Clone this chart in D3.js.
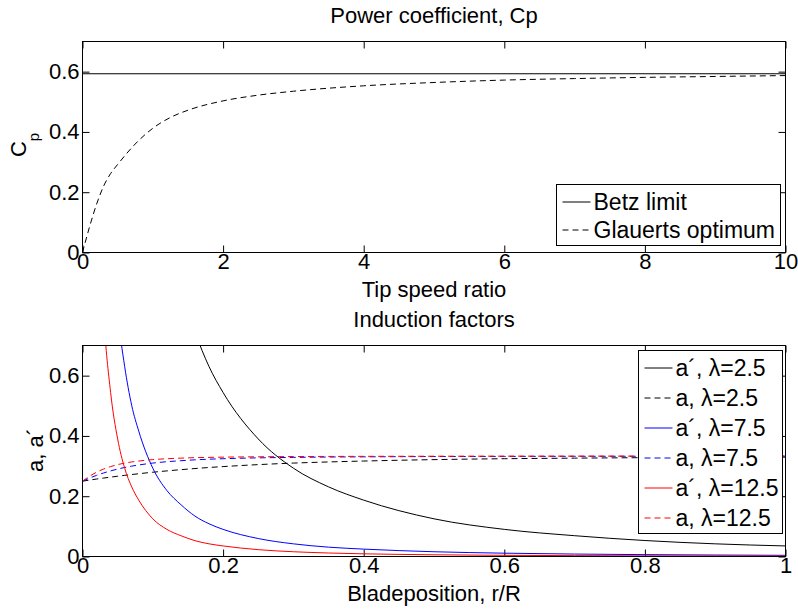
<!DOCTYPE html>
<html>
<head>
<meta charset="utf-8">
<script src="https://cdn.jsdelivr.net/npm/d3@7"></script>
<style>
    body { margin: 0; background: #fff; }
    svg text { font-family: "Liberation Sans", Arial, Helvetica, sans-serif; }
</style>
</head>
<body>
<div id="chart-area"></div>
<script>
// ---- top panel: power coefficient vs tip speed ratio
const tsrBetz = [0, 10];
const cpBetz = [0.593, 0.593];

const tsrGlauert = [0, 0.1, 0.2, 0.3, 0.4, 0.5, 0.75, 1, 1.25, 1.5, 2, 2.5, 3, 4, 5, 6, 7, 8, 9, 10];
const cpGlauert = [0, 0.085, 0.16, 0.22, 0.262, 0.292, 0.36, 0.412, 0.448, 0.472, 0.503, 0.522, 0.535, 0.553, 0.564, 0.572, 0.577, 0.581, 0.584, 0.587];

const topXTicks = [0, 2, 4, 6, 8, 10];
const topXLabels = ["0", "2", "4", "6", "8", "10"];
const topYTicks = [0, 0.2, 0.4, 0.6];
const topYLabels = ["0", "0.2", "0.4", "0.6"];

// ---- bottom panel: induction factors vs blade position
const bladePos = [0, 0.01, 0.02, 0.03, 0.04, 0.05, 0.06, 0.07, 0.08, 0.1, 0.12, 0.14, 0.16, 0.18, 0.2, 0.25, 0.3, 0.35, 0.4, 0.5, 0.6, 0.7, 0.8, 0.9, 1.0];

const aPrime25 = [null, 17, 8.3, 5.4, 3.95, 3.08, 2.5, 2.09, 1.79, 1.36, 1.088, 0.89, 0.745, 0.63, 0.544, 0.39, 0.293, 0.231, 0.187, 0.125, 0.09, 0.069, 0.053, 0.042, 0.035];
const a25 = [0.25, 0.2535, 0.257, 0.2602, 0.2633, 0.2663, 0.2692, 0.272, 0.2746, 0.2796, 0.284, 0.2881, 0.2918, 0.2953, 0.2983, 0.3048, 0.3099, 0.3137, 0.3167, 0.3214, 0.3244, 0.3263, 0.3279, 0.3288, 0.3296];
const aPrime75 = [null, 5.4, 2.505, 1.556, 1.088, 0.809, 0.63, 0.501, 0.416, 0.293, 0.219, 0.172, 0.134, 0.1085, 0.09, 0.0596, 0.042, 0.031, 0.0245, 0.0158, 0.011, 0.0081, 0.0062, 0.0049, 0.0039];
const a75 = [0.25, 0.2601, 0.2692, 0.2771, 0.284, 0.2901, 0.2953, 0.2998, 0.3036, 0.3099, 0.3145, 0.3178, 0.3207, 0.3228, 0.3244, 0.3272, 0.3288, 0.33, 0.3306, 0.3316, 0.3321, 0.3324, 0.3326, 0.3328, 0.3329];
const aPrime125 = [null, 3.08, 1.36, 0.809, 0.544, 0.39, 0.293, 0.231, 0.187, 0.125, 0.09, 0.069, 0.0525, 0.042, 0.035, 0.0227, 0.0158, 0.0116, 0.0089, 0.0057, 0.0039, 0.0029, 0.0022, 0.0018, 0.0014];
const a125 = [0.25, 0.2663, 0.2796, 0.2901, 0.2983, 0.3048, 0.3099, 0.3137, 0.3167, 0.3214, 0.3244, 0.3263, 0.3279, 0.3288, 0.3296, 0.3308, 0.3316, 0.332, 0.3323, 0.3327, 0.3329, 0.333, 0.3331, 0.3331, 0.3332];

const botXTicks = [0, 0.2, 0.4, 0.6, 0.8, 1];
const botXLabels = ["0", "0.2", "0.4", "0.6", "0.8", "1"];
const botYTicks = [0, 0.2, 0.4, 0.6];
const botYLabels = ["0", "0.2", "0.4", "0.6"];

const inductionSeries = [
    { name: "a\u00B4, \u03BB=2.5", values: aPrime25, color: "#000000", dash: null },
    { name: "a, \u03BB=2.5", values: a25, color: "#000000", dash: "6,4" },
    { name: "a\u00B4, \u03BB=7.5", values: aPrime75, color: "#0000ff", dash: null },
    { name: "a, \u03BB=7.5", values: a75, color: "#0000ff", dash: "6,4" },
    { name: "a\u00B4, \u03BB=12.5", values: aPrime125, color: "#ff0000", dash: null },
    { name: "a, \u03BB=12.5", values: a125, color: "#ff0000", dash: "6,4" }
];

const width = 798;
const height = 609;
const fontSize = 22;
const legendFont = 23;

const svg = d3.select('#chart-area')
    .append('svg')
    .attr("width", width)
    .attr("height", height)
    .style('background', '#ffffff');

// both panels share the same horizontal extent
const left = 82.5, right = 785.5;

function makePanel(top, bottom, xDomain, xTicks, xLabels, yTicks, yLabels, clipId) {
    const x = d3.scaleLinear().domain(xDomain).range([left, right]);
    const y = d3.scaleLinear().domain([0, 0.7]).range([bottom, top]);

    svg.append('clipPath')
        .attr('id', clipId)
        .append('rect')
        .attr('x', left).attr('y', top)
        .attr('width', right - left).attr('height', bottom - top);

    const fmtX = d => xLabels[xTicks.indexOf(d)];
    const fmtY = d => yLabels[yTicks.indexOf(d)];

    // inward ticks on all four sides, MATLAB style
    const axes = [
        { axis: d3.axisBottom(x).tickValues(xTicks).tickFormat(fmtX).tickPadding(1), t: `translate(0, ${bottom})` },
        { axis: d3.axisTop(x).tickValues(xTicks).tickFormat(""), t: `translate(0, ${top})` },
        { axis: d3.axisLeft(y).tickValues(yTicks).tickFormat(fmtY).tickPadding(3), t: `translate(${left}, 0)` },
        { axis: d3.axisRight(y).tickValues(yTicks).tickFormat(""), t: `translate(${right}, 0)` }
    ];
    axes.forEach(a => {
        const g = svg.append('g')
            .attr('transform', a.t)
            .call(a.axis.tickSizeInner(-7).tickSizeOuter(0));
        g.select('.domain').remove();
        g.selectAll('.tick line').attr('stroke', '#000').attr('stroke-width', 1);
        g.selectAll('.tick text')
            .attr('fill', '#000')
            .style('font-size', fontSize + 'px')
            .style('font-family', '"Liberation Sans", Arial, sans-serif');
    });

    const plot = svg.append('g').attr('clip-path', `url(#${clipId})`);

    return { x, y, plot, top, bottom };
}

function drawBox(p) {
    svg.append('rect')
        .attr('x', left).attr('y', p.top)
        .attr('width', right - left).attr('height', p.bottom - p.top)
        .attr('fill', 'none')
        .attr('stroke', '#000')
        .attr('stroke-width', 1);
}

function drawLegend(x0, y0, w, rowH, items) {
    const g = svg.append('g');
    g.append('rect')
        .attr('x', x0).attr('y', y0)
        .attr('width', w).attr('height', rowH * (items.length - 1) + 33)
        .attr('fill', '#fff')
        .attr('stroke', '#000')
        .attr('stroke-width', 1);
    items.forEach((d, i) => {
        const cy = y0 + 17.5 + i * rowH;
        g.append('line')
            .attr('x1', x0 + 6).attr('x2', x0 + 34)
            .attr('y1', cy).attr('y2', cy)
            .attr('stroke', d.color)
            .attr('stroke-width', 1)
            .attr('stroke-dasharray', d.dash);
        g.append('text')
            .attr('x', x0 + 37)
            .attr('y', cy + 8)
            .attr('font-size', legendFont + 'px')
            .attr('fill', '#000')
            .text(d.name);
    });
}

// ================= top panel
const p1 = makePanel(41.5, 252.5, [0, 10], topXTicks, topXLabels, topYTicks, topYLabels, 'clip-top');

const line1 = d3.line()
    .x(d => p1.x(d[0]))
    .y(d => p1.y(d[1]))
    .curve(d3.curveMonotoneX);

p1.plot.append('path')
    .datum(d3.zip(tsrBetz, cpBetz))
    .attr('d', line1)
    .attr('fill', 'none')
    .attr('stroke', '#000')
    .attr('stroke-width', 1);

p1.plot.append('path')
    .datum(d3.zip(tsrGlauert, cpGlauert))
    .attr('d', line1)
    .attr('fill', 'none')
    .attr('stroke', '#000')
    .attr('stroke-width', 1)
    .attr('stroke-dasharray', '6,4');

drawBox(p1);

drawLegend(556.5, 184.5, 224, 28, [
    { name: "Betz limit", color: "#000", dash: null },
    { name: "Glauerts optimum", color: "#000", dash: "6,4" }
]);

svg.append('text')
    .attr('x', (left + right) / 2)
    .attr('y', 23)
    .attr('text-anchor', 'middle')
    .attr('font-size', fontSize + 'px')
    .text("Power coefficient, Cp");

svg.append('text')
    .attr('x', (left + right) / 2)
    .attr('y', 297)
    .attr('text-anchor', 'middle')
    .attr('font-size', fontSize + 'px')
    .text("Tip speed ratio");

const cpLabel = svg.append('text')
    .attr('transform', 'rotate(-90)')
    .attr('x', -145)
    .attr('y', 26)
    .attr('text-anchor', 'middle')
    .attr('font-size', fontSize + 'px')
    .text("C");
cpLabel.append('tspan')
    .attr('dy', 13)
    .attr('font-size', '15px')
    .text("p");

// ================= bottom panel
const p2 = makePanel(345.5, 556.5, [0, 1], botXTicks, botXLabels, botYTicks, botYLabels, 'clip-bottom');

const line2 = d3.line()
    .defined(d => d[1] !== null)
    .x(d => p2.x(d[0]))
    .y(d => p2.y(d[1]))
    .curve(d3.curveMonotoneX);

inductionSeries.forEach(s => {
    p2.plot.append('path')
        .datum(d3.zip(bladePos, s.values))
        .attr('d', line2)
        .attr('fill', 'none')
        .attr('stroke', s.color)
        .attr('stroke-width', 1)
        .attr('stroke-dasharray', s.dash);
});

drawBox(p2);

drawLegend(638.5, 350.5, 144, 30, inductionSeries);

svg.append('text')
    .attr('x', (left + right) / 2)
    .attr('y', 327)
    .attr('text-anchor', 'middle')
    .attr('font-size', fontSize + 'px')
    .text("Induction factors");

svg.append('text')
    .attr('x', (left + right) / 2)
    .attr('y', 601)
    .attr('text-anchor', 'middle')
    .attr('font-size', fontSize + 'px')
    .text("Bladeposition, r/R");

svg.append('text')
    .attr('transform', 'rotate(-90)')
    .attr('x', -450)
    .attr('y', 43)
    .attr('text-anchor', 'middle')
    .attr('font-size', fontSize + 'px')
    .text("a, a\u00B4");
</script>
</body>
</html>
